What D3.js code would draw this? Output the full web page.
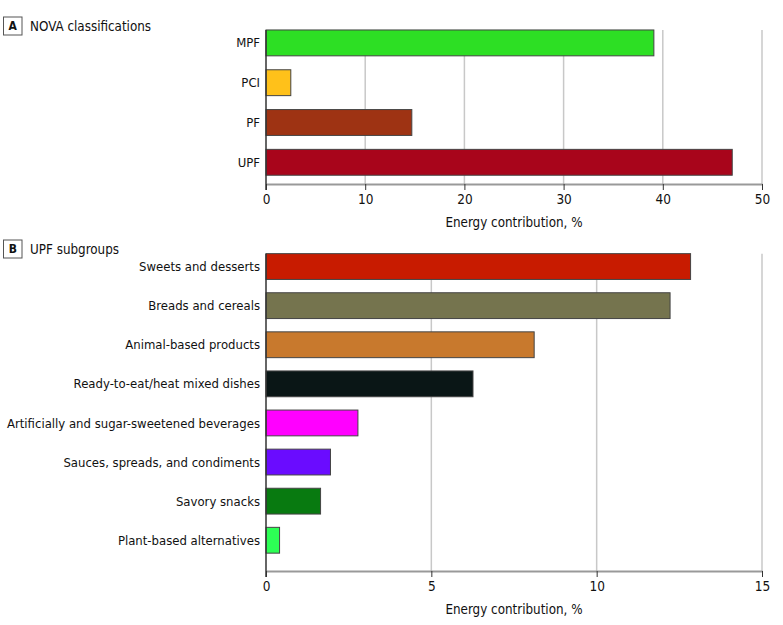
<!DOCTYPE html>
<html>
<head>
<meta charset="utf-8">
<script src="https://cdn.jsdelivr.net/npm/d3@7"></script>
<style>
  body { margin: 0; background: #fff; }
  svg text { font-family: "DejaVu Sans Condensed", "Liberation Sans Narrow", sans-serif; fill: #111; }
</style>
</head>
<body>
<svg id="chart" width="783" height="625"></svg>
<script>
// Panel A - NOVA classifications
var novaCats = ["MPF", "PCI", "PF", "UPF"];
var novaValues = [39.1, 2.5, 14.7, 47.0];
var novaColors = ["#2ddf24", "#ffc11a", "#9e3313", "#a8051b"];
var novaTicks = [0, 10, 20, 30, 40, 50];

// Panel B - UPF subgroups
var upfCats = ["Sweets and desserts", "Breads and cereals", "Animal-based products",
  "Ready-to-eat/heat mixed dishes", "Artificially and sugar-sweetened beverages",
  "Sauces, spreads, and condiments", "Savory snacks", "Plant-based alternatives"];
var upfValues = [12.84, 12.22, 8.11, 6.26, 2.78, 1.95, 1.65, 0.41];
var upfColors = ["#c81b00", "#75744e", "#c8792d", "#0a1616", "#ff00ff", "#6a0cff", "#087a10", "#2dff55"];
var upfTicks = [0, 5, 10, 15];

var svg = d3.select("#chart");
var x0 = 266, x1 = 762;

function panel(opt) {
  var g = svg.append("g");

  // panel letter box + title
  g.append("rect")
    .attr("x", 3.5).attr("y", opt.titleY - 9)
    .attr("width", 18.5).attr("height", 18)
    .attr("fill", "#fff").attr("stroke", "#555").attr("stroke-width", 1);
  g.append("text")
    .attr("x", 12.75).attr("y", opt.titleY)
    .attr("dy", "0.36em").attr("text-anchor", "middle")
    .style("font-size", "12px").style("font-weight", "bold")
    .text(opt.letter);
  g.append("text")
    .attr("x", 30).attr("y", opt.titleY)
    .attr("dy", "0.35em")
    .style("font-size", "13.3px")
    .text(opt.title);

  var x = d3.scaleLinear().domain(opt.domain).range([x0, x1]);
  var y = d3.scaleBand().domain(opt.cats)
    .range(opt.yRange).paddingInner(opt.pad).paddingOuter(opt.pad / 2);

  var top = y(opt.cats[0]);

  // gridlines
  g.selectAll(".grid").data(opt.ticks.slice(1))
    .enter().append("line")
    .attr("x1", function(d) { return x(d); })
    .attr("x2", function(d) { return x(d); })
    .attr("y1", top).attr("y2", opt.axisY)
    .attr("stroke", "#c8c8c8").attr("stroke-width", 1.5);

  // bars
  g.selectAll(".bar").data(opt.values)
    .enter().append("rect")
    .attr("x", x(0))
    .attr("y", function(d, i) { return y(opt.cats[i]); })
    .attr("width", function(d) { return x(d) - x(0); })
    .attr("height", y.bandwidth())
    .attr("fill", function(d, i) { return opt.colors[i]; })
    .attr("stroke", "#444").attr("stroke-width", 1);

  // category labels
  g.selectAll(".lab").data(opt.cats)
    .enter().append("text")
    .attr("x", x0 - 6)
    .attr("y", function(d) { return y(d) + y.bandwidth() / 2; })
    .attr("dy", "0.35em").attr("text-anchor", "end")
    .style("font-size", "13px")
    .text(function(d) { return d; });

  // x axis
  var ax = g.append("g").attr("transform", "translate(0," + opt.axisY + ")")
    .call(d3.axisBottom(x).tickValues(opt.ticks).tickSize(6).tickSizeOuter(0).tickPadding(4));
  ax.select(".domain").attr("stroke", "#999").attr("stroke-width", 2);
  ax.selectAll(".tick line").attr("stroke", "#333").attr("stroke-width", 1);
  ax.selectAll(".tick text")
    .style("font-family", "\"DejaVu Sans Condensed\", sans-serif")
    .style("font-size", "13.5px").attr("fill", "#111");

  // left axis line
  g.append("line")
    .attr("x1", x0).attr("x2", x0)
    .attr("y1", top).attr("y2", opt.axisY + 6)
    .attr("stroke", "#333").attr("stroke-width", 1.5);

  g.append("text")
    .attr("x", (x0 + x1) / 2).attr("y", opt.axisY + 38)
    .attr("dy", "0.35em").attr("text-anchor", "middle")
    .style("font-size", "13.3px")
    .text("Energy contribution, %");
}

panel({
  letter: "A", title: "NOVA classifications", titleY: 26,
  cats: novaCats, values: novaValues, colors: novaColors, ticks: novaTicks,
  domain: [0, 50], yRange: [23, 182.2], pad: 0.35, axisY: 184
});

panel({
  letter: "B", title: "UPF subgroups", titleY: 249,
  cats: upfCats, values: upfValues, colors: upfColors, ticks: upfTicks,
  domain: [0, 15], yRange: [247, 559.8], pad: 0.34, axisY: 571
});
</script>
</body>
</html>
